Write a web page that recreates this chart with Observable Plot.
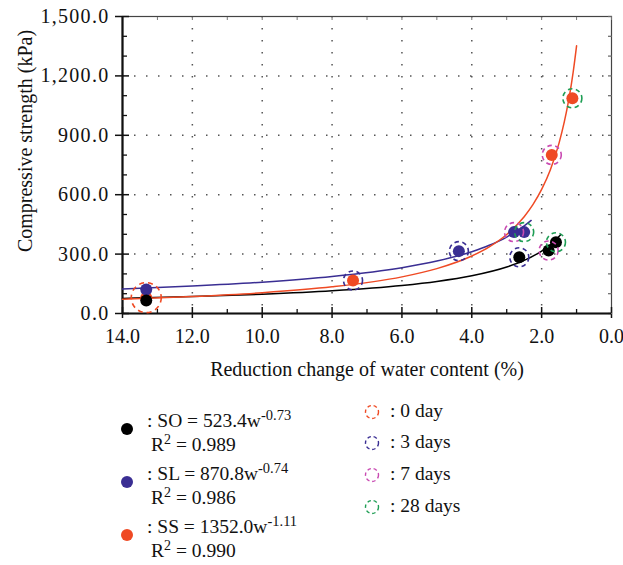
<!DOCTYPE html>
<html><head><meta charset="utf-8">
<script src="https://cdn.jsdelivr.net/npm/d3@7"></script>
<script src="https://cdn.jsdelivr.net/npm/@observablehq/plot@0.6"></script>
<style>
body{margin:0;background:#fff;}
#wrap{position:relative;width:623px;height:565px;overflow:hidden;}
svg{display:block;}
g[aria-label="y-axis tick label"] text{letter-spacing:1.3px;}
</style></head><body><div id="wrap"><div id="chart"></div><div id="legend"></div></div>
<script>
// Series and categories
const seriesNames = ["SO", "SL", "SS"];
const seriesColors = ["#000000", "#3a2e93", "#ef4a24"];
const seriesEq = [
  ["SO = 523.4w", "-0.73", "0.989"],
  ["SL = 870.8w", "-0.74", "0.986"],
  ["SS = 1352.0w", "-1.11", "0.990"]
];
const dayNames = ["0 day", "3 days", "7 days", "28 days"];
const dayColors = ["#ef4a24", "#3a2e93", "#c94ab2", "#1f9e55"];

// Measured points (x: reduction change of water content %, y: compressive strength kPa), by day
const soX = [13.32, 2.64, 1.80, 1.59];
const soY = [66, 284, 318, 360];
const slX = [13.32, 4.37, 2.79, 2.50];
const slY = [121, 315, 411, 411];
const ssX = [13.32, 7.40, 1.71, 1.12];
const ssY = [80, 167, 801, 1087];

// Fitted curves
const soFitX = [1.45, 1.6, 1.75, 2, 2.5, 3, 4, 5, 6, 8, 10, 12, 14];
const soFitY = [398.9, 371.4, 347.6, 315.6, 268, 234.6, 190.3, 161.7, 141.5, 114.7, 97.4, 85.3, 76.2];
const slFitX = [2.3, 2.5, 3, 3.5, 4, 5, 6, 8, 10, 12, 14];
const slFitY = [470, 442.1, 386.2, 344.6, 312.2, 264.7, 231.2, 187, 158.3, 138.5, 123.6];
const ssFitX = [1.0, 1.1, 1.15, 1.25, 1.35, 1.5, 1.75, 2, 2.25, 2.5, 3, 3.5, 4, 5, 6, 8, 10, 12, 14];
const ssFitY = [1352, 1216, 1157, 1055, 969, 862, 726, 626.5, 549.7, 489, 399.1, 336.5, 290.4, 226.6, 184.9, 134.5, 104.9, 85.7, 72.2];

// Axis ticks
const xMajor = [0, 2, 4, 6, 8, 10, 12, 14];
const xMinor = [1, 3, 5, 7, 9, 11, 13];
const xGrid = [2, 4, 6, 8, 10, 12];
const yMajor = [0, 300, 600, 900, 1200, 1500];
const yMinor = [100, 200, 400, 500, 700, 800, 1000, 1100, 1300, 1400];
const yGrid = [300, 600, 900, 1200];
const xLabel = "Reduction change of water content (%)";
const yLabel = "Compressive strength (kPa)";

const FONT = "'Liberation Serif', 'DejaVu Serif', serif";

const pts = [];
[[soX, soY], [slX, slY], [ssX, ssY]].forEach(([xs, ys], i) =>
  xs.forEach((x, j) => pts.push({series: seriesNames[i], x, y: ys[j], day: dayNames[j]})));
const drawOrder = ["SS", "SL", "SO"];
pts.sort((a, b) => drawOrder.indexOf(a.series) - drawOrder.indexOf(b.series));
const ringsLater = pts.filter(d => d.day !== "0 day");
const ringsFirst = pts.filter(d => d.day === "0 day" && d.series === "SS");

const fits = [];
[[soFitX, soFitY], [slFitX, slFitY], [ssFitX, ssFitY]].forEach(([xs, ys], i) =>
  xs.forEach((x, j) => fits.push({series: seriesNames[i], x, y: ys[j]})));

const colorOf = s => seriesColors[seriesNames.indexOf(s)];
const dayColorOf = d => dayColors[dayNames.indexOf(d)];
const blank = () => "";

const chart = Plot.plot({
  width: 623,
  height: 385,
  marginLeft: 122,
  marginRight: 12,
  marginTop: 16,
  marginBottom: 72,
  style: {fontFamily: FONT, fontSize: "20px", color: "#111", background: "#fff"},
  x: {domain: [14, 0], label: null},
  y: {domain: [0, 1500], label: null},
  marks: [
    Plot.ruleX(xGrid, {stroke: "#555", strokeWidth: 1.5, strokeDasharray: "1.5,10.5"}),
    Plot.ruleY(yGrid, {stroke: "#555", strokeWidth: 1.5, strokeDasharray: "1.5,10.5"}),
    Plot.frame({stroke: "#444", strokeWidth: 1.2}),
    // outer ticks + labels
    Plot.axisX({anchor: "bottom", ticks: xMajor, tickSize: 5, tickPadding: 10, tickFormat: d3.format(".1f"), strokeWidth: 1.5, fontSize: 20}),
    Plot.axisY({anchor: "left", ticks: yMajor, tickSize: 7, tickPadding: 6, tickFormat: d3.format(",.1f"), strokeWidth: 1.5, fontSize: 20}),
    // inner ticks
    Plot.axisX({anchor: "bottom", ticks: xMajor, tickSize: 6, dy: -6, tickFormat: blank, strokeWidth: 1.5}),
    Plot.axisX({anchor: "bottom", ticks: xMinor, tickSize: 4, dy: -4, tickFormat: blank, strokeWidth: 1.3}),
    Plot.axisY({anchor: "left", ticks: yMajor, tickSize: 7, dx: 7, tickFormat: blank, strokeWidth: 1.5}),
    Plot.axisY({anchor: "left", ticks: yMinor, tickSize: 5, dx: 5, tickFormat: blank, strokeWidth: 1.3}),
    Plot.axisX({anchor: "top", ticks: xMajor.concat(xMinor), tickSize: 3, dy: 3, tickFormat: blank, stroke: "#777", strokeWidth: 1}),
    Plot.axisY({anchor: "right", ticks: yMajor.concat(yMinor), tickSize: 4, dx: -4, tickFormat: blank, stroke: "#666", strokeWidth: 1.2}),
    // main axis lines
    Plot.ruleX([14], {stroke: "#111", strokeWidth: 2.2}),
    Plot.ruleY([0], {stroke: "#111", strokeWidth: 2.2}),
    // fitted curves
    Plot.line(fits, {x: "x", y: "y", z: "series", stroke: d => colorOf(d.series), strokeWidth: 1.5, curve: "monotone-x"}),
    // measured dots
    Plot.dot(pts, {x: "x", y: "y", r: 6, fill: d => colorOf(d.series), stroke: "none"}),
    // dashed rings by curing day
    Plot.dot(ringsFirst, {x: "x", y: "y", r: 15, fill: "none",
      stroke: d => dayColorOf(d.day), strokeWidth: 1.6, strokeDasharray: "5,4"}),
    Plot.dot(ringsLater, {x: "x", y: "y", r: 9.5, fill: "none",
      stroke: d => dayColorOf(d.day), strokeWidth: 1.6, strokeDasharray: "4.5,3.5"}),
    // axis titles
    Plot.text([xLabel], {text: d => d, frameAnchor: "bottom", textAnchor: "middle", lineAnchor: "bottom", dy: 62, fontSize: 20}),
    Plot.text([yLabel], {text: d => d, frameAnchor: "left", textAnchor: "middle", lineAnchor: "middle", rotate: -90, dx: -97, dy: -24, fontSize: 20})
  ]
});
document.getElementById("chart").appendChild(chart);

// Legend below the chart
const leg = d3.select("#legend").append("svg")
  .attr("width", 623).attr("height", 180)
  .style("font-family", FONT).style("font-size", "19.5px");

seriesNames.forEach((s, i) => {
  const top = [42, 95, 148][i];
  leg.append("circle").attr("cx", 127).attr("cy", top + 2).attr("r", 6).attr("fill", seriesColors[i]);
  const t = leg.append("text").attr("x", 147).attr("y", top).attr("fill", "#111");
  t.append("tspan").text(": " + seriesEq[i][0]);
  t.append("tspan").attr("dy", -7).attr("font-size", 14.5).text(seriesEq[i][1]);
  const r = leg.append("text").attr("x", 151).attr("y", top + 24).attr("fill", "#111");
  r.append("tspan").text("R");
  r.append("tspan").attr("dy", -7).attr("font-size", 14).text("2");
  r.append("tspan").attr("dy", 7).text(" = " + seriesEq[i][2]);
});
dayNames.forEach((d, i) => {
  const base = [32, 63, 95, 127][i];
  leg.append("circle").attr("cx", 372).attr("cy", base - 5).attr("r", 6.5)
    .attr("fill", "none").attr("stroke", dayColors[i]).attr("stroke-width", 1.4)
    .attr("stroke-dasharray", "3.5,2.8");
  leg.append("text").attr("x", 390).attr("y", base).attr("fill", "#111").text(": " + d);
});
</script></body></html>
